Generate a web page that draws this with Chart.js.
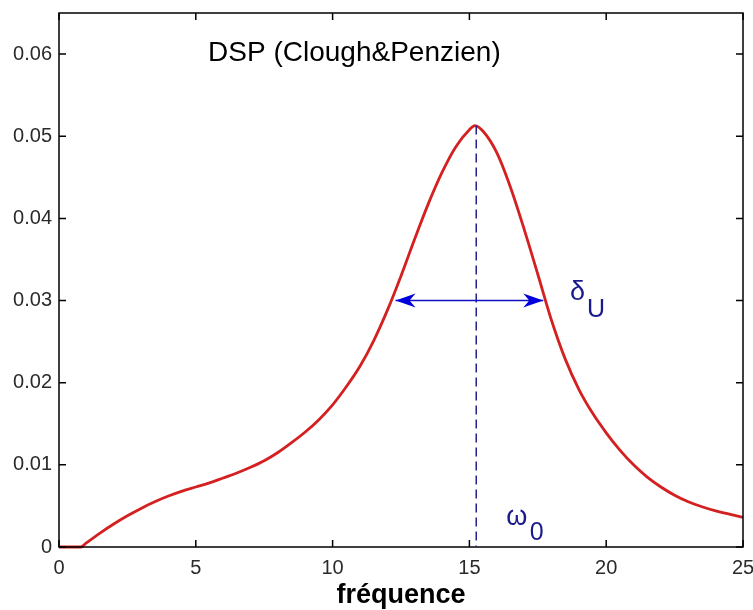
<!DOCTYPE html>
<html>
<head>
<meta charset="utf-8">
<script src="https://cdn.jsdelivr.net/npm/chart.js@4.4.0/dist/chart.umd.min.js"></script>
<style>
  html, body { margin: 0; padding: 0; background: #fff; }
  #wrap { width: 753px; height: 610px; }
</style>
</head>
<body>
<div id="wrap"><canvas id="chart"></canvas></div>
<script>
// frequence (x) and DSP values (y)
const freq = [0, 0.5, 0.8, 1.0, 1.5, 2.0, 2.5, 3.0, 3.5, 4.0, 4.5, 5.0, 5.5, 6.0, 6.5, 7.0, 7.5, 8.0, 8.5, 9.0, 9.5,
    10.0, 10.5, 11.0, 11.5, 12.0, 12.5, 13.0, 13.5, 14.0, 14.5, 15.0, 15.2, 15.5, 16.0, 16.5, 17.0, 17.5, 18.0, 18.5,
    19.0, 19.5, 20.0, 20.5, 21.0, 21.5, 22.0, 22.5, 23.0, 23.5, 24.0, 24.5, 25.0];
const dsp = [0, 0, 0, 0.0005, 0.0017, 0.0028, 0.0038, 0.0047, 0.0055, 0.0062, 0.0068, 0.0073, 0.0078, 0.0084, 0.0090,
    0.0097, 0.0105, 0.0115, 0.0127, 0.0140, 0.0155, 0.0173, 0.0195, 0.0220, 0.0251, 0.0288, 0.0330, 0.0375, 0.0418,
    0.0456, 0.0487, 0.0508, 0.0513, 0.0506, 0.0480, 0.0438, 0.0387, 0.0332, 0.0276, 0.0229, 0.0192, 0.0163, 0.0139,
    0.0118, 0.0100, 0.0085, 0.0073, 0.0063, 0.0055, 0.0049, 0.0044, 0.0040, 0.0036];

const xTicks = [0, 5, 10, 15, 20, 25];
const yTicks = [0, 0.01, 0.02, 0.03, 0.04, 0.05, 0.06];
const yTickLabels = ['0', '0.01', '0.02', '0.03', '0.04', '0.05', '0.06'];

// annotations (data coordinates)
const omega0 = 15.25;        // pic
const peakValue = 0.0513;
const bandLevel = 0.030;     // niveau de la fleche
const bandEdges = [12.3, 17.7];

const frame = {
    id: 'frame',
    afterDraw(chart) {
        const { ctx, chartArea: { top, bottom, left, right }, scales: { x, y } } = chart;
        ctx.save();
        // boite
        ctx.strokeStyle = '#000';
        ctx.lineWidth = 1.5;
        ctx.strokeRect(left, top, right - left, bottom - top);
        // ticks vers l'interieur
        ctx.beginPath();
        xTicks.forEach(v => {
            const px = x.getPixelForValue(v);
            ctx.moveTo(px, bottom); ctx.lineTo(px, bottom - 7);
            ctx.moveTo(px, top); ctx.lineTo(px, top + 7);
        });
        yTicks.forEach(v => {
            const py = y.getPixelForValue(v);
            ctx.moveTo(left, py); ctx.lineTo(left + 7, py);
            ctx.moveTo(right, py); ctx.lineTo(right - 7, py);
        });
        ctx.stroke();

        // ligne pointillee omega0
        const xo = x.getPixelForValue(omega0);
        ctx.beginPath();
        ctx.setLineDash([9, 5]);
        ctx.strokeStyle = '#22228a';
        ctx.lineWidth = 1.5;
        ctx.moveTo(xo, y.getPixelForValue(peakValue));
        ctx.lineTo(xo, y.getPixelForValue(0));
        ctx.stroke();
        ctx.setLineDash([]);

        // fleche double
        const yb = y.getPixelForValue(bandLevel);
        const x1 = x.getPixelForValue(bandEdges[0]);
        const x2 = x.getPixelForValue(bandEdges[1]);
        ctx.strokeStyle = '#1010c0';
        ctx.fillStyle = '#0000dd';
        ctx.lineWidth = 1.5;
        ctx.beginPath();
        ctx.moveTo(x1, yb); ctx.lineTo(x2, yb);
        ctx.stroke();
        [[x1, 1], [x2, -1]].forEach(([tip, d]) => {
            ctx.beginPath();
            ctx.moveTo(tip, yb);
            ctx.lineTo(tip + d * 20, yb - 7);
            ctx.lineTo(tip + d * 14, yb);
            ctx.lineTo(tip + d * 20, yb + 7);
            ctx.closePath();
            ctx.fill();
        });

        // textes
        ctx.fillStyle = '#000';
        ctx.textBaseline = 'alphabetic';
        ctx.textAlign = 'left';
        ctx.font = '28px "Liberation Sans", Arial, sans-serif';
        ctx.fillText('DSP (Clough&Penzien)', x.getPixelForValue(5.45), y.getPixelForValue(0.0591));

        ctx.fillStyle = '#1a1a8c';
        ctx.font = '27px "Liberation Sans", Arial, sans-serif';
        ctx.fillText('δ', x.getPixelForValue(18.68), y.getPixelForValue(0.0301));
        ctx.fillText('ω', x.getPixelForValue(16.35), y.getPixelForValue(0.0027));
        ctx.font = '25px "Liberation Sans", Arial, sans-serif';
        ctx.fillText('U', x.getPixelForValue(19.30), y.getPixelForValue(0.0280));
        ctx.fillText('0', x.getPixelForValue(17.21), y.getPixelForValue(0.00085));
        ctx.restore();
    }
}

const data = {
    datasets: [{
        data: freq.map((f, i) => ({ x: f, y: dsp[i] })),
        borderColor: '#d42020',
        borderWidth: 2.8,
        pointRadius: 0,
        cubicInterpolationMode: 'monotone',
        clip: false
    }]
}

const tickFont = { family: '"Liberation Sans", Arial, sans-serif', size: 20 };

const config = {
    type: 'line',
    data,
    options: {
        responsive: false,
        animation: false,
        layout: {
            padding: { top: 13, right: 10, bottom: 0, left: 0 }
        },
        scales: {
            x: {
                type: 'linear',
                min: 0,
                max: 25,
                afterBuildTicks: (s) => { s.ticks = xTicks.map(v => ({ value: v })); },
                afterFit: (s) => { s.height = 63; s.paddingLeft = 0; s.paddingRight = 0; },
                grid: { display: false, drawTicks: false },
                border: { display: false },
                ticks: { font: tickFont, color: '#2a2a2a', padding: 9, maxRotation: 0 },
                title: {
                    display: true,
                    text: 'fréquence',
                    color: '#000',
                    font: { family: '"Liberation Sans", Arial, sans-serif', size: 27, weight: 'bold', lineHeight: 1 },
                    padding: { top: 0, bottom: 0.5 }
                }
            },
            y: {
                min: 0,
                max: 0.065,
                afterBuildTicks: (s) => { s.ticks = yTicks.map(v => ({ value: v })); },
                afterFit: (s) => { s.width = 59; s.paddingTop = 0; s.paddingBottom = 0; },
                grid: { display: false, drawTicks: false },
                border: { display: false },
                ticks: {
                    font: tickFont,
                    color: '#2a2a2a',
                    padding: 7,
                    callback: (v, i) => yTickLabels[i]
                }
            }
        },
        plugins: {
            legend: { display: false },
            tooltip: { enabled: false }
        }
    },
    plugins: [frame]
}

var canvas = document.getElementById('chart');
canvas.width = 753;
canvas.height = 610;
var myChart = new Chart(canvas, config);
</script>
</body>
</html>
